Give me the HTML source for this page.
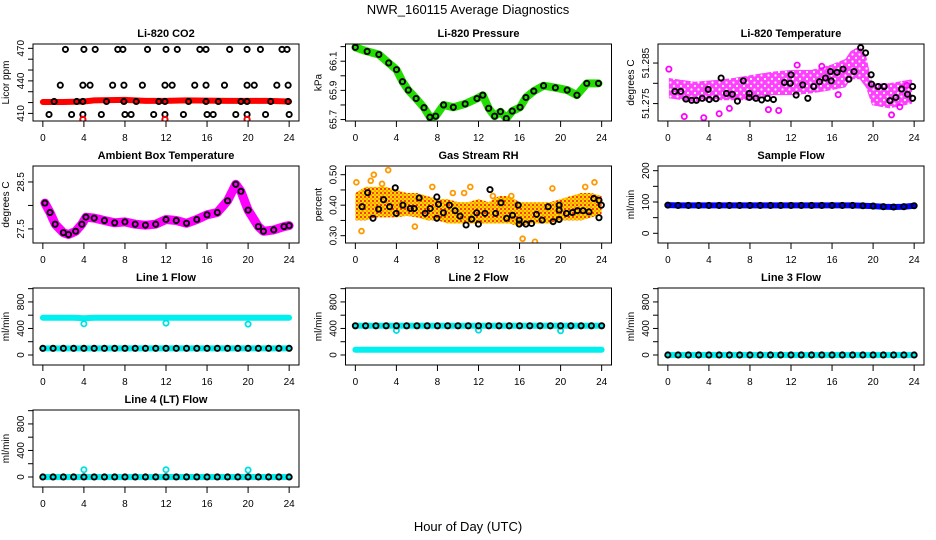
<!DOCTYPE html>
<html><head><meta charset="utf-8">
<style>
html,body{margin:0;padding:0;background:#fff;}
svg{display:block;font-family:"Liberation Sans",Arial,sans-serif;}
</style></head>
<body>
<svg id="chart" width="936" height="540" viewBox="0 0 936 540" xmlns="http://www.w3.org/2000/svg">
<defs>
<pattern id="rhPat" width="4" height="4" patternUnits="userSpaceOnUse">
<rect width="4" height="4" fill="#ffd800"/>
<rect x="0" y="0" width="2" height="2" fill="#ff3c00"/>
<rect x="2" y="2" width="2" height="2" fill="#ffa000"/>
</pattern>
<pattern id="tPat" width="7" height="7" patternUnits="userSpaceOnUse">
<rect width="7" height="7" fill="#ff40ff"/>
<circle cx="2" cy="2" r="1.1" fill="#fff"/>
<circle cx="5.5" cy="5.5" r="1.1" fill="#fff"/>
</pattern>
</defs>
<text x="468" y="14" text-anchor="middle" font-size="13">NWR_160115  Average Diagnostics</text>
<text x="468" y="531" text-anchor="middle" font-size="13">Hour of Day (UTC)</text>
</svg>
<script>
// ---------- DATA ----------
// CO2
const co2HighHours=[2.2,4.0,5.1,7.3,7.8,10.2,12.0,13.1,15.3,15.9,18.2,19.9,21.2,23.3,23.8];
const co2MidHours=[1.7,3.9,4.6,6.8,7.9,9.7,11.9,12.6,14.8,15.9,17.7,19.9,20.6,22.8,23.9];
const co2BaseHours=[1.1,3.3,3.9,6.2,7.9,9.1,11.3,11.9,14.2,15.9,17.1,19.3,19.9,22.2,23.9];
const co2LowHours=[0.6,2.8,3.9,5.7,8.0,8.6,10.8,11.9,13.7,16.0,16.6,18.8,19.9,21.7,24.0];
const co2Levels=[469,436,421,409];
const co2RedHours=[3.9,11.9,19.9];
const co2RedValue=404.5;
const co2BandHours=[0,2,4,5,8,10,12,14,16,18,20,22,24];
const co2BandValues=[420.5,420.5,421,422,422.5,421.5,421.5,422,421.8,421.5,421.5,421.5,421];
// Pressure
const presHours=[0,1.15,2.29,3.25,4.01,4.59,5.16,5.92,6.69,7.26,7.83,8.6,9.55,10.7,11.85,12.42,12.99,13.57,14.14,14.71,15.29,16.05,16.62,17.39,18.34,19.49,20.64,21.59,22.55,23.69];
const presValues=[66.195,66.167,66.146,66.088,66.042,65.960,65.902,65.844,65.781,65.716,65.723,65.800,65.784,65.807,65.844,65.867,65.777,65.723,65.754,65.707,65.758,65.784,65.851,65.895,65.932,65.918,65.902,65.867,65.948,65.948];
// Li-820 temperature
const tBandHours=[0.1,2.6,4.5,6.4,8.3,10.2,12.1,14.0,15.9,17.3,17.8,18.7,19.3,19.9,21.6,23.8];
const tBandHigh=[51.2813,51.2804,51.2808,51.2813,51.2821,51.2829,51.2833,51.2833,51.2846,51.2860,51.2879,51.2892,51.2870,51.2800,51.2800,51.2810];
const tBandLow=[51.2763,51.2754,51.2758,51.2758,51.2758,51.2771,51.2771,51.2775,51.2783,51.2790,51.2810,51.2810,51.2790,51.2746,51.2738,51.2750];
const tPinkHours=[0.1,3.5,5.0,9.8,10.8,16.6,21.8,23.3,1.6,6.0,12.6,15.0,22.6];
const tPinkValues=[51.2835,51.2715,51.2725,51.2735,51.2733,51.2772,51.2722,51.2795,51.2718,51.2738,51.2845,51.2842,51.2742];
const tBlackHours=[0.69,1.26,1.76,2.32,2.78,3.35,3.93,4.04,4.69,5.19,5.71,6.28,6.78,7.35,7.93,7.93,8.58,9.14,9.71,10.29,11.36,11.93,12.01,12.5,13.14,13.64,14.21,14.78,15.36,15.85,15.92,16.49,17.07,17.64,18.14,18.79,19.27,19.81,19.85,20.5,21.07,21.64,22.22,22.78,23.35,23.85,23.85];
const tBlackValues=[51.2780,51.2780,51.2761,51.2758,51.2758,51.2763,51.2785,51.2760,51.2762,51.2813,51.2775,51.2773,51.2756,51.2806,51.2775,51.2765,51.2763,51.2759,51.2763,51.2760,51.2802,51.2800,51.2821,51.2771,51.2796,51.2763,51.2792,51.2804,51.2813,51.2829,51.2806,51.2827,51.2835,51.2810,51.2829,51.2888,51.2875,51.2821,51.2798,51.2792,51.2792,51.2757,51.2765,51.2786,51.2773,51.2792,51.2763];
// Ambient box temperature
const ambHours=[0.2,0.7,1.2,2.0,2.5,3.2,3.8,4.2,5.0,6.0,7.0,8.0,9.0,10.0,11.0,12.0,13.0,14.0,15.0,16.0,17.0,18.0,18.8,19.3,20.0,21.0,21.5,22.5,23.5,24.0];
const ambValues=[28.05,27.85,27.6,27.42,27.38,27.45,27.6,27.75,27.73,27.68,27.63,27.65,27.6,27.58,27.6,27.7,27.68,27.62,27.7,27.8,27.85,28.1,28.45,28.3,27.9,27.55,27.45,27.48,27.55,27.57];
// Gas stream RH
const rhBandHours=[0,1,2,3,4,5,6,7,8,9,10,11,12,13,14,15,16,17,18,19,20,21,22,23,24];
const rhBandHigh=[0.44,0.46,0.46,0.46,0.45,0.44,0.44,0.43,0.42,0.42,0.41,0.41,0.42,0.41,0.43,0.43,0.41,0.41,0.41,0.41,0.42,0.43,0.44,0.44,0.43];
const rhBandLow=[0.35,0.35,0.36,0.36,0.36,0.365,0.36,0.35,0.35,0.34,0.34,0.34,0.34,0.34,0.34,0.34,0.33,0.34,0.34,0.34,0.35,0.35,0.35,0.36,0.37];
const rhOutHours=[0.1,0.6,1.5,1.8,2.6,3.2,5.8,7.5,9.5,10.6,11.2,13.4,15.2,16.3,17.5,19.2,22.4,23.3];
const rhOutValues=[0.475,0.315,0.48,0.50,0.47,0.515,0.33,0.46,0.44,0.44,0.46,0.43,0.43,0.29,0.28,0.455,0.46,0.475];
const rhBlackHours=[0.65,1.2,1.72,2.27,2.75,3.34,3.89,3.98,4.63,5.35,5.73,6.22,6.8,7.29,7.94,7.94,8.1,8.58,9.17,9.72,10.2,10.79,11.34,11.82,11.99,12.63,13.12,13.67,14.19,14.74,15.32,15.87,15.97,15.97,16.62,17.17,17.65,18.2,18.79,19.27,19.86,19.86,19.86,20.57,21.15,21.64,22.19,22.77,23.23,23.74,23.74,23.97];
const rhBlackValues=[0.395,0.441,0.357,0.387,0.418,0.395,0.457,0.373,0.40,0.389,0.389,0.424,0.373,0.389,0.427,0.357,0.403,0.375,0.40,0.382,0.364,0.335,0.354,0.375,0.338,0.373,0.451,0.373,0.408,0.357,0.367,0.40,0.351,0.338,0.338,0.34,0.37,0.351,0.395,0.346,0.40,0.384,0.353,0.373,0.376,0.382,0.382,0.378,0.422,0.416,0.359,0.40];
// Flows (hourly)
const flowHours=[0,1,2,3,4,5,6,7,8,9,10,11,12,13,14,15,16,17,18,19,20,21,22,23,24];
const sampleFlow=[90,89,89,89,89,89,89,89,89,89,89,89,89,89,89,89,89,89,89,88,87,85,84,85,88];
const line1Cyan=[560,560,560,560,555,560,560,560,560,560,560,560,560,560,560,560,560,560,560,560,560,560,560,560,560];
const line1Black=[100,100,100,100,100,100,100,100,100,100,100,100,100,100,100,100,100,100,100,100,100,100,100,100,100];
const line2Cyan=[440,440,440,440,440,440,440,440,440,440,440,440,440,440,440,440,440,440,440,440,440,440,440,440,440];
const line2Black=[440,440,440,440,440,440,440,440,440,440,440,440,440,440,440,440,440,440,440,440,440,440,440,440,440];
const line2Low=[80,80,80,80,80,80,80,80,80,80,80,80,80,80,80,80,80,80,80,80,80,80,80,80,80];
const line3Flow=[0,0,0,0,0,0,0,0,0,0,0,0,0,0,0,0,0,0,0,0,0,0,0,0,0];
const line4Flow=[0,0,0,0,0,0,0,0,0,0,0,0,0,0,0,0,0,0,0,0,0,0,0,0,0];
const dipHours=[4,12,20];
const line1Dips=[470,480,465];
const line2Dips=[370,375,365];
const line4Spikes=[110,110,105];
const xTickValues=[0,4,8,12,16,20,24];

// ---------- DRAWING ----------
const NS='http://www.w3.org/2000/svg';
const svg=document.getElementById('chart');
function mk(tag,attrs,parent){const e=document.createElementNS(NS,tag);for(const k in attrs)e.setAttribute(k,attrs[k]);(parent||svg).appendChild(e);return e;}

function makePanel(cfg){
  const left=33+312.5*cfg.col, top=44+122*cfg.row, W=266, H=77;
  const g=mk('g',{});
  
  
  const xs=h=>left+(h+0.96)/25.92*W;
  const ys=v=>top+H-(v-cfg.ymin)/(cfg.ymax-cfg.ymin)*H;
  const clipId='clip'+cfg.name;
  const cp=mk('clipPath',{id:clipId},g);mk('rect',{x:left,y:top,width:W,height:H},cp);
  const plot=mk('g',{'clip-path':'url(#'+clipId+')'},g);
  
  
  const title=mk('text',{x:left+W/2,y:top-7,'text-anchor':'middle','font-size':'11','font-weight':'bold'},g);
  title.textContent=cfg.title;
  
  
  const box=mk('rect',{x:left,y:top,width:W,height:H,fill:'none',stroke:'#000','stroke-width':'1'},g);
  
  
  xTickValues.forEach(t=>{
    const x=xs(t);
    mk('line',{x1:x,y1:top+H,x2:x,y2:top+H+6,stroke:'#000'},g);
    const tl=mk('text',{x:x,y:top+H+20,'text-anchor':'middle','font-size':'10'},g);
    tl.textContent=t;
    
    
  });
  cfg.yticks.forEach(t=>{
    const y=ys(t);
    mk('line',{x1:left-5,y1:y,x2:left,y2:y,stroke:'#000'},g);
  });
  cfg.ylabels.forEach((t,i)=>{
    const y=ys(t);
    const yl=mk('text',{x:left-9,y:y,'text-anchor':'middle','font-size':'10',transform:'rotate(-90 '+(left-9)+' '+y+')'},g);
    yl.textContent=cfg.ylabelText?cfg.ylabelText[i]:t;
    
    
  });
  const yt=mk('text',{x:left-24,y:top+H/2,'text-anchor':'middle','font-size':'10',transform:'rotate(-90 '+(left-24)+' '+(top+H/2)+')'},g);
  yt.textContent=cfg.ytitle;
  
  
  return {plot,xs,ys};
}
function pts(p,hs,vs,color,r,sw,name){
  hs.forEach((h,i)=>{
    const c=mk('circle',{cx:p.xs(h),cy:p.ys(vs[i]),r:r,fill:'none',stroke:color,'stroke-width':sw},p.plot);
    
    
  });
}
function line(p,hs,vs,color,w,name){
  const d=hs.map((h,i)=>(i?'L':'M')+p.xs(h).toFixed(1)+','+p.ys(vs[i]).toFixed(1)).join(' ');
  const l=mk('path',{d:d,fill:'none',stroke:color,'stroke-width':w,'stroke-linecap':'round','stroke-linejoin':'round'},p.plot);
  
  
}
function band(p,hs,hi,lo,fill,name){
  let d=hs.map((h,i)=>(i?'L':'M')+p.xs(h).toFixed(1)+','+p.ys(hi[i]).toFixed(1)).join(' ');
  for(let i=hs.length-1;i>=0;i--)d+=' L'+p.xs(hs[i]).toFixed(1)+','+p.ys(lo[i]).toFixed(1);
  const b=mk('path',{d:d+' Z',fill:fill,stroke:'none'},p.plot);
  
  
}
const levelArr=(hs,v)=>hs.map(()=>v);
const BW=1.9;

// Panel 1: CO2
let p=makePanel({name:'co2-panel',title:'Li-820 CO2',col:0,row:0,ymin:403,ymax:474,yticks:[410,420,430,440,450,460,470],ylabels:[410,440,470],ytitle:'Licor ppm'});
line(p,co2BandHours,co2BandValues,'#ff0000',6,'co2-red-band');
pts(p,co2HighHours,levelArr(co2HighHours,co2Levels[0]),'#000',2.6,BW,'co2-point');
pts(p,co2MidHours,levelArr(co2MidHours,co2Levels[1]),'#000',2.6,BW,'co2-point');
pts(p,co2BaseHours,levelArr(co2BaseHours,co2Levels[2]),'#000',2.6,BW,'co2-point');
pts(p,co2LowHours,levelArr(co2LowHours,co2Levels[3]),'#000',2.6,BW,'co2-point');
pts(p,co2RedHours,levelArr(co2RedHours,co2RedValue),'#ff0000',2.6,2,'co2-red-point');

// Panel 2: Pressure
p=makePanel({name:'pressure-panel',title:'Li-820 Pressure',col:1,row:0,ymin:65.69,ymax:66.218,yticks:[65.7,65.8,65.9,66.0,66.1,66.2],ylabels:[65.7,65.9,66.1],ytitle:'kPa'});
line(p,presHours,presValues,'#22dd00',8,'pressure-green-line');
pts(p,presHours,presValues,'#000',2.6,BW,'pressure-point');

// Panel 3: Li-820 Temperature
p=makePanel({name:'licor-temp-panel',title:'Li-820 Temperature',col:2,row:0,ymin:51.2707,ymax:51.2897,yticks:[51.275,51.28,51.285],ylabels:[51.275,51.285],ytitle:'degrees C'});
band(p,tBandHours,tBandHigh,tBandLow,'url(#tPat)','licor-temp-band');
pts(p,tPinkHours,tPinkValues,'#ff00ff',2.6,1.8,'licor-temp-pink-point');
pts(p,tBlackHours,tBlackValues,'#000',2.6,BW,'licor-temp-point');

// Panel 4: Ambient box temperature
p=makePanel({name:'ambient-temp-panel',title:'Ambient Box Temperature',col:0,row:1,ymin:27.2,ymax:28.84,yticks:[27.5,28.0,28.5],ylabels:[27.5,28.5],ytitle:'degrees C'});
line(p,ambHours,ambValues,'#ff00ff',9,'ambient-magenta-line');
pts(p,ambHours,ambValues,'#000',2.6,BW,'ambient-point');

// Panel 5: Gas stream RH
p=makePanel({name:'rh-panel',title:'Gas Stream RH',col:1,row:1,ymin:0.276,ymax:0.5285,yticks:[0.30,0.35,0.40,0.45,0.50],ylabels:[0.30,0.40,0.50],ylabelText:['0.30','0.40','0.50'],ytitle:'percent'});
band(p,rhBandHours,rhBandHigh,rhBandLow,'url(#rhPat)','rh-band');
pts(p,rhOutHours,rhOutValues,'#ff9900',2.4,1.8,'rh-orange-point');
pts(p,rhBlackHours,rhBlackValues,'#000',2.6,BW,'rh-point');

// Panel 6: Sample flow
p=makePanel({name:'sample-flow-panel',title:'Sample Flow',col:2,row:1,ymin:-31,ymax:215,yticks:[0,50,100,150,200],ylabels:[0,100,200],ytitle:'ml/min'});
line(p,flowHours,sampleFlow,'#0000ff',6,'sample-flow-line');
pts(p,flowHours,sampleFlow,'#000',2.6,BW,'sample-flow-point');

const flowTicks=[0,200,400,600,800,1000], flowLabels=[0,400,800];
// Panel 7: Line 1
p=makePanel({name:'line1-panel',title:'Line 1 Flow',col:0,row:2,ymin:-151,ymax:1010,yticks:flowTicks,ylabels:flowLabels,ytitle:'ml/min'});
line(p,flowHours,line1Cyan,'#00f0f0',6,'line1-cyan-line');
pts(p,dipHours,line1Dips,'#00e0e0',2.6,1.8,'line1-cyan-dip');
line(p,flowHours,line1Black,'#00f0f0',6,'line1-low-cyan');
pts(p,flowHours,line1Black,'#000',2.6,BW,'line1-point');

// Panel 8: Line 2
p=makePanel({name:'line2-panel',title:'Line 2 Flow',col:1,row:2,ymin:-151,ymax:1010,yticks:flowTicks,ylabels:flowLabels,ytitle:'ml/min'});
line(p,flowHours,line2Cyan,'#00f0f0',6,'line2-cyan-line');
pts(p,dipHours,line2Dips,'#00e0e0',2.6,1.8,'line2-cyan-dip');
line(p,flowHours,line2Low,'#00f0f0',6,'line2-low-cyan');
pts(p,flowHours,line2Black,'#000',2.6,BW,'line2-point');

// Panel 9: Line 3
p=makePanel({name:'line3-panel',title:'Line 3 Flow',col:2,row:2,ymin:-151,ymax:1010,yticks:flowTicks,ylabels:flowLabels,ytitle:'ml/min'});
line(p,flowHours,line3Flow,'#00f0f0',6,'line3-cyan-line');
pts(p,flowHours,line3Flow,'#000',2.6,BW,'line3-point');

// Panel 10: Line 4
p=makePanel({name:'line4-panel',title:'Line 4 (LT) Flow',col:0,row:3,ymin:-151,ymax:1010,yticks:flowTicks,ylabels:flowLabels,ytitle:'ml/min'});
line(p,flowHours,line4Flow,'#00f0f0',6,'line4-cyan-line');
pts(p,dipHours,line4Spikes,'#00e0e0',2.6,1.8,'line4-cyan-spike');
pts(p,flowHours,line4Flow,'#000',2.6,BW,'line4-point');
</script>
</body></html>
